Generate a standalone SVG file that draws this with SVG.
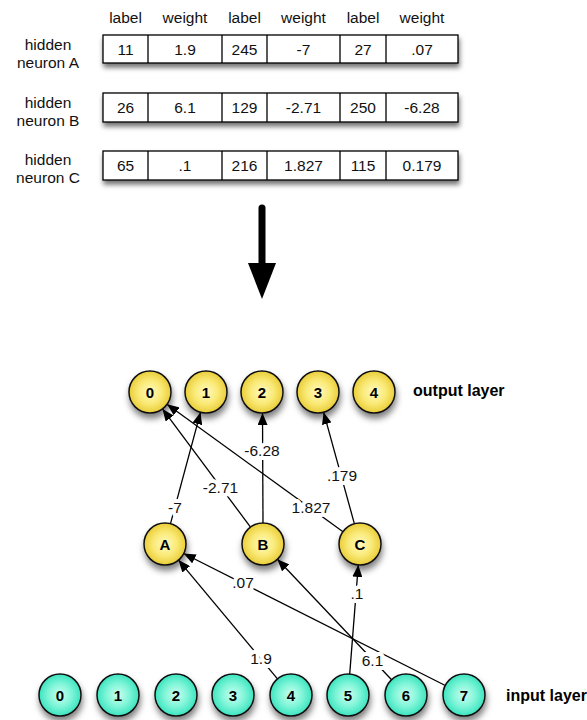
<svg xmlns="http://www.w3.org/2000/svg" width="587" height="720" viewBox="0 0 587 720">
<style>
text{font-family:"Liberation Sans",Arial,sans-serif;font-size:15.5px;fill:#111;text-anchor:middle}
.rl{font-size:15.5px}
.nt{font-weight:bold;font-size:15px;fill:#000}
.ll{font-weight:bold;font-size:16px;text-anchor:start;fill:#000}
.cell{fill:#fff;stroke:#000;stroke-width:1.3}
.div{stroke:#000;stroke-width:1.3}
.y{fill:url(#gy);stroke:#111;stroke-width:1.5}
.c{fill:url(#gc);stroke:#111;stroke-width:1.5}
.e{stroke:#000;stroke-width:1.3;fill:none;marker-end:url(#ah)}
.el{paint-order:stroke;stroke:#fff;stroke-width:8px;stroke-linejoin:round}
</style>
<defs>
<radialGradient id="gy" cx="0.5" cy="0.5" r="0.5" fx="0.5" fy="0.5">
<stop offset="0" stop-color="#fffac0"/>
<stop offset="0.55" stop-color="#faea78"/>
<stop offset="1" stop-color="#e9cd38"/>
</radialGradient>
<radialGradient id="gc" cx="0.5" cy="0.5" r="0.5" fx="0.5" fy="0.5">
<stop offset="0" stop-color="#cbfff0"/>
<stop offset="0.55" stop-color="#80f5d8"/>
<stop offset="1" stop-color="#3be4c0"/>
</radialGradient>
<filter id="sh" x="-30%" y="-30%" width="160%" height="170%">
<feDropShadow dx="1" dy="4" stdDeviation="2.5" flood-color="#000" flood-opacity="0.55"/>
</filter>
<filter id="ns" x="-40%" y="-40%" width="180%" height="190%">
<feDropShadow dx="1" dy="5" stdDeviation="3" flood-color="#000" flood-opacity="0.5"/>
</filter>
<marker id="ah" markerUnits="userSpaceOnUse" markerWidth="12" markerHeight="10" refX="12" refY="5" orient="auto">
<path d="M0,0 L12,5 L0,10 z" fill="#000"/>
</marker>
</defs>

<g id="header">
<text x="125.5" y="22.5">label</text>
<text x="185" y="22.5">weight</text>
<text x="244.5" y="22.5">label</text>
<text x="303.5" y="22.5">weight</text>
<text x="363" y="22.5">label</text>
<text x="422" y="22.5">weight</text>
</g>

<g id="rowA">
<text class="rl" x="48" y="50">hidden</text>
<text class="rl" x="48" y="68">neuron A</text>
<rect class="cell" x="103" y="35" width="355" height="28" filter="url(#sh)"/>
<path class="div" d="M148,35V63M222,35V63M267,35V63M340,35V63M386,35V63"/>
<text x="125.5" y="54.5">11</text>
<text x="185" y="54.5">1.9</text>
<text x="244.5" y="54.5">245</text>
<text x="303.5" y="54.5">-7</text>
<text x="363" y="54.5">27</text>
<text x="422" y="54.5">.07</text>
</g>

<g id="rowB">
<text class="rl" x="48" y="108">hidden</text>
<text class="rl" x="48" y="126">neuron B</text>
<rect class="cell" x="103" y="93" width="355" height="29" filter="url(#sh)"/>
<path class="div" d="M148,93V122M222,93V122M267,93V122M340,93V122M386,93V122"/>
<text x="125.5" y="112.5">26</text>
<text x="185" y="112.5">6.1</text>
<text x="244.5" y="112.5">129</text>
<text x="303.5" y="112.5">-2.71</text>
<text x="363" y="112.5">250</text>
<text x="422" y="112.5">-6.28</text>
</g>

<g id="rowC">
<text class="rl" x="48" y="165">hidden</text>
<text class="rl" x="48" y="183">neuron C</text>
<rect class="cell" x="103" y="151" width="355" height="29" filter="url(#sh)"/>
<path class="div" d="M148,151V180M222,151V180M267,151V180M340,151V180M386,151V180"/>
<text x="125.5" y="171">65</text>
<text x="185" y="171">.1</text>
<text x="244.5" y="171">216</text>
<text x="303.5" y="171">1.827</text>
<text x="363" y="171">115</text>
<text x="422" y="171">0.179</text>
</g>

<g id="bigArrow">
<line x1="262" y1="208" x2="262" y2="266" stroke="#000" stroke-width="7" stroke-linecap="round"/>
<polygon points="248,263 276,263 262,299" fill="#000"/>
</g>

<g id="connectors">
<line class="e" x1="170.5" y1="523.7" x2="200.5" y2="412.3"/>
<line class="e" x1="250.5" y1="527.1" x2="162.5" y2="408.9"/>
<line class="e" x1="343" y1="531.7" x2="167" y2="404.3"/>
<line class="e" x1="263" y1="523" x2="262.5" y2="413"/>
<line class="e" x1="354.4" y1="523.8" x2="323.6" y2="412.2"/>
<line class="e" x1="277.5" y1="678.9" x2="178.5" y2="560.1"/>
<line class="e" x1="445.3" y1="685.5" x2="183.7" y2="553.5"/>
<line class="e" x1="391.6" y1="679.8" x2="277.4" y2="559.2"/>
<line class="e" x1="349.7" y1="674.1" x2="358.3" y2="564.9"/>
<text class="el" x="175" y="513">-7</text>
<text class="el" x="220.5" y="493">-2.71</text>
<text class="el" x="311" y="512.5">1.827</text>
<text class="el" x="262" y="455.5">-6.28</text>
<text class="el" x="342" y="480.5">.179</text>
<text class="el" x="261" y="664">1.9</text>
<text class="el" x="243" y="588">.07</text>
<text class="el" x="372.5" y="665.5">6.1</text>
<text class="el" x="357" y="599">.1</text>
</g>

<g id="out0"><circle class="y" cx="150" cy="392" r="21" filter="url(#ns)"/><text class="nt" x="150" y="397.5">0</text></g>
<g id="out1"><circle class="y" cx="206" cy="392" r="21" filter="url(#ns)"/><text class="nt" x="206" y="397.5">1</text></g>
<g id="out2"><circle class="y" cx="262" cy="392" r="21" filter="url(#ns)"/><text class="nt" x="262" y="397.5">2</text></g>
<g id="out3"><circle class="y" cx="318" cy="392" r="21" filter="url(#ns)"/><text class="nt" x="318" y="397.5">3</text></g>
<g id="out4"><circle class="y" cx="374" cy="392" r="21" filter="url(#ns)"/><text class="nt" x="374" y="397.5">4</text></g>
<g id="outputLabel"><text class="ll" x="413" y="396">output layer</text></g>

<g id="hidA"><circle class="y" cx="165" cy="544" r="21" filter="url(#ns)"/><text class="nt" x="165" y="549.5">A</text></g>
<g id="hidB"><circle class="y" cx="263" cy="544" r="21" filter="url(#ns)"/><text class="nt" x="263" y="549.5">B</text></g>
<g id="hidC"><circle class="y" cx="360" cy="544" r="21" filter="url(#ns)"/><text class="nt" x="360" y="549.5">C</text></g>

<g id="in0"><circle class="c" cx="60" cy="695" r="21" filter="url(#ns)"/><text class="nt" x="60" y="700.5">0</text></g>
<g id="in1"><circle class="c" cx="118" cy="695" r="21" filter="url(#ns)"/><text class="nt" x="118" y="700.5">1</text></g>
<g id="in2"><circle class="c" cx="176" cy="695" r="21" filter="url(#ns)"/><text class="nt" x="176" y="700.5">2</text></g>
<g id="in3"><circle class="c" cx="233" cy="695" r="21" filter="url(#ns)"/><text class="nt" x="233" y="700.5">3</text></g>
<g id="in4"><circle class="c" cx="291" cy="695" r="21" filter="url(#ns)"/><text class="nt" x="291" y="700.5">4</text></g>
<g id="in5"><circle class="c" cx="348" cy="695" r="21" filter="url(#ns)"/><text class="nt" x="348" y="700.5">5</text></g>
<g id="in6"><circle class="c" cx="406" cy="695" r="21" filter="url(#ns)"/><text class="nt" x="406" y="700.5">6</text></g>
<g id="in7"><circle class="c" cx="464" cy="695" r="21" filter="url(#ns)"/><text class="nt" x="464" y="700.5">7</text></g>
<g id="inputLabel"><text class="ll" x="506" y="700.5">input layer</text></g>
</svg>
